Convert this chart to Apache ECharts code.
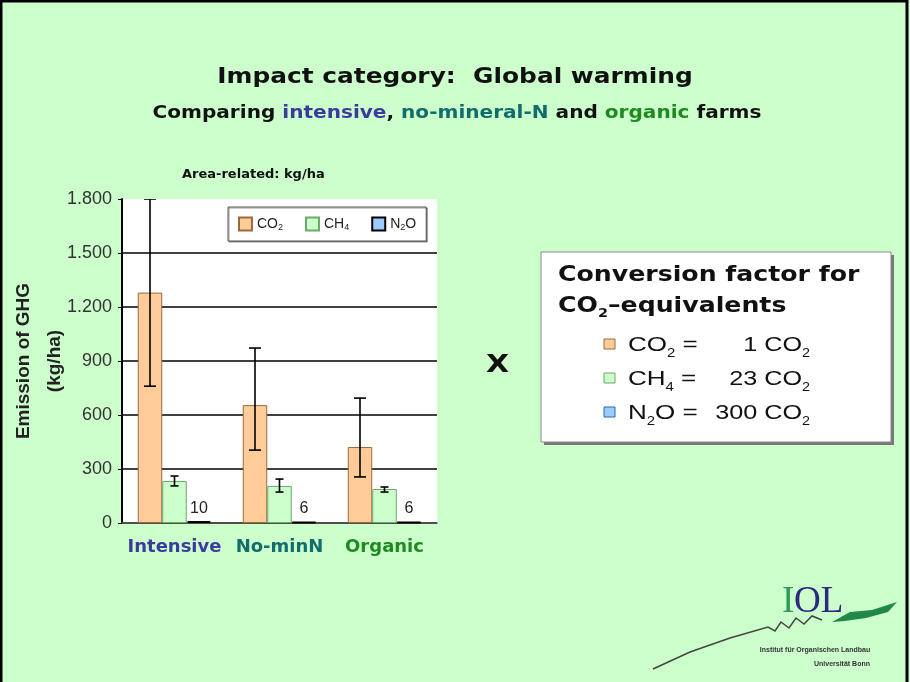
<!DOCTYPE html>
<html>
<head>
<meta charset="utf-8">
<script src="https://cdn.jsdelivr.net/npm/echarts@6/dist/echarts.min.js"></script>
<style>
  html, body { margin: 0; padding: 0; background: #ccffcc; }
  #chart { width: 910px; height: 682px; }
</style>
</head>
<body>
<div id="chart"></div>
<script>
// farm types
const categories = ['Intensive', 'No-minN', 'Organic']
const catColors = ['#3b3b9e', '#116d6d', '#1f8a1f']
// emissions kg/ha
const co2 = [1280, 655, 422]
const ch4 = [233, 206, 189]
const n2o = [10, 6, 6]
// error bar ends
const co2Low = [760, 405, 256]
const co2High = [1800, 972, 694]
const ch4Low = [206, 172, 172]
const ch4High = [261, 244, 200]
// conversion factors box
const factorGas = ['CO{s|2} =', 'CH{s|4} =', 'N{s|2}O =']
const factorValue = ['1 CO{s|2}', '23 CO{s|2}', '300 CO{s|2}']
const factorColor = ['#ffcc99', '#ccffcc', '#99ccff']
const factorBorder = ['#9a6b3c', '#6aaa6a', '#3366aa']

const chart = echarts.init(document.getElementById('chart'))

// error bars drawn next to the bar of series number idx (0..2)
function errorRenderer (idx, cap) {
  return function (params, api) {
    const x = api.value(0)
    const lo = api.coord([x, api.value(1)])
    const hi = api.coord([x, api.value(2)])
    const catW = api.size([1, 0])[0]
    const barW = catW * 0.7 / 3
    const cx = lo[0] + (idx - 1) * barW
    const style = { stroke: '#000', lineWidth: 1.6 }
    return {
      type: 'group',
      children: [
        { type: 'line', shape: { x1: cx, y1: lo[1], x2: cx, y2: hi[1] }, style },
        { type: 'line', shape: { x1: cx - cap, y1: lo[1], x2: cx + cap, y2: lo[1] }, style },
        { type: 'line', shape: { x1: cx - cap, y1: hi[1], x2: cx + cap, y2: hi[1] }, style }
      ]
    }
  }
}

function txt (x, y, text, font, opts) {
  opts = opts || {}
  return {
    type: 'text', x: x, y: y, silent: true,
    scaleX: opts.scaleX || 1,
    style: {
      text: text, font: font, fill: opts.fill || '#111',
      align: opts.align || 'left', textAlign: opts.align || 'left',
      verticalAlign: 'middle', textVerticalAlign: 'middle',
      lineHeight: opts.lineHeight, rich: opts.rich
    }
  }
}

const boxRich = { s: { font: '12px "Liberation Sans"', verticalAlign: 'bottom' } }
const factorEls = []
factorGas.forEach((g, i) => {
  const cy = 345 + i * 34
  factorEls.push({
    type: 'rect', silent: true,
    shape: { x: 604, y: cy - 6, width: 11, height: 10 },
    style: { fill: factorColor[i], stroke: factorBorder[i], lineWidth: 1 }
  })
  factorEls.push(txt(628, cy, g, '21px "Liberation Sans"', { lineHeight: 30, rich: boxRich, scaleX: 1.24 }))
  factorEls.push(txt(810, cy, factorValue[i], '21px "Liberation Sans"', { lineHeight: 30, rich: boxRich, scaleX: 1.2, align: 'right' }))
})

const option = {
  backgroundColor: '#ccffcc',
  animation: false,
  grid: {
    left: 122, top: 199, right: 473, bottom: 159,
    show: true, backgroundColor: '#ffffff', borderWidth: 0
  },
  legend: {
    left: 228, top: 207,
    data: ['CO2', 'CH4', 'N2O'],
    backgroundColor: '#ffffff',
    borderColor: '#555',
    borderWidth: 1,
    padding: [9, 10],
    itemGap: 22,
    itemWidth: 13,
    itemHeight: 13,
    icon: 'rect',
    shadowColor: 'rgba(0,0,0,0.4)',
    shadowOffsetX: 1,
    shadowOffsetY: 1,
    formatter: function (name) {
      return { CO2: 'CO{s|2}', CH4: 'CH{s|4}', N2O: 'N{s|2}O' }[name]
    },
    textStyle: {
      fontSize: 14, lineHeight: 16, color: '#222', fontFamily: 'Liberation Sans',
      rich: { s: { fontSize: 9, lineHeight: 9, verticalAlign: 'bottom', fontFamily: 'Liberation Sans', color: '#222' } }
    }
  },
  xAxis: {
    type: 'category',
    data: categories,
    axisLine: { lineStyle: { color: '#555', width: 1.5 } },
    axisTick: { show: false },
    axisLabel: {
      interval: 0,
      hideOverlap: false,
      margin: 15,
      fontSize: 18,
      fontWeight: 'bold',
      fontFamily: 'DejaVu Sans',
      color: function (v, i) { return catColors[categories.indexOf(v)] }
    }
  },
  yAxis: {
    type: 'value',
    min: 0,
    max: 1800,
    interval: 300,
    name: 'Emission of GHG\n(kg/ha)',
    nameLocation: 'middle',
    nameRotate: 90,
    nameGap: 52,
    nameMoveOverlap: false,
    nameTextStyle: { fontSize: 19, fontWeight: 'bold', color: '#222', fontFamily: 'Liberation Sans', lineHeight: 31 },
    axisLine: { show: true, lineStyle: { color: '#000', width: 2 } },
    axisTick: { show: true, length: 4, lineStyle: { color: '#000' } },
    axisLabel: {
      fontSize: 18, color: '#333', fontFamily: 'Liberation Sans', margin: 10,
      formatter: function (v) { return String(v).replace(/\B(?=(\d{3})+(?!\d))/g, '.') }
    },
    splitLine: { show: true, showMaxLine: false, lineStyle: { color: '#000', width: 1.5 } }
  },
  series: [
    {
      name: 'CO2', type: 'bar', data: co2,
      barGap: '0%', barCategoryGap: '30%',
      itemStyle: { color: '#ffcc99', borderColor: '#9a6b3c', borderWidth: 1 }
    },
    {
      name: 'CH4', type: 'bar', data: ch4,
      itemStyle: { color: '#ccffcc', borderColor: '#6aaa6a', borderWidth: 1 }
    },
    {
      name: 'N2O', type: 'bar', data: n2o,
      itemStyle: { color: '#99ccff', borderColor: '#000', borderWidth: 2 },
      label: { show: true, position: 'top', distance: 5, fontSize: 16, color: '#222', fontFamily: 'Liberation Sans' }
    },
    {
      type: 'custom', name: 'co2err', silent: true, clip: true, z: 5,
      renderItem: errorRenderer(0, 6),
      data: categories.map((c, i) => [i, co2Low[i], co2High[i]])
    },
    {
      type: 'custom', name: 'ch4err', silent: true, clip: true, z: 5,
      renderItem: errorRenderer(1, 4),
      data: categories.map((c, i) => [i, ch4Low[i], ch4High[i]])
    }
  ],
  graphic: [
    // page frame
    { type: 'rect', shape: { x: 1, y: 1, width: 906, height: 700 }, style: { fill: 'none', stroke: '#000', lineWidth: 3 }, silent: true },
    txt(455, 77, 'Impact category:  Global warming', 'bold 22px "DejaVu Sans"', { align: 'center', scaleX: 1.13 }),
    txt(457, 113, 'Comparing {b|intensive}, {t|no-mineral-N} and {g|organic} farms', 'bold 18px "DejaVu Sans"', {
      align: 'center', scaleX: 1.115,
      rich: {
        b: { fill: '#3b3b9e', font: 'bold 18px "DejaVu Sans"' },
        t: { fill: '#116d6d', font: 'bold 18px "DejaVu Sans"' },
        g: { fill: '#1f8a1f', font: 'bold 18px "DejaVu Sans"' }
      }
    }),
    txt(182, 175, 'Area-related: kg/ha', 'bold 13px "DejaVu Sans"'),
    txt(486, 366, 'X', 'bold 24px "DejaVu Sans"', { scaleX: 1.25 }),
    // conversion factor box
    { type: 'rect', silent: true, shape: { x: 544, y: 255, width: 350, height: 190 }, style: { fill: '#777' } },
    { type: 'rect', silent: true, shape: { x: 541, y: 252, width: 350, height: 190 }, style: { fill: '#fff', stroke: '#888', lineWidth: 1 } },
    txt(558, 276, 'Conversion factor for', 'bold 21px "DejaVu Sans"', { scaleX: 1.2 }),
    txt(558, 307, 'CO{s|2}\u2013equivalents', 'bold 21px "DejaVu Sans"', {
      scaleX: 1.2, lineHeight: 26,
      rich: { s: { font: 'bold 12px "DejaVu Sans"', verticalAlign: 'bottom' } }
    })
  ].concat(factorEls).concat([
    // IOL logo
    {
      type: 'polyline', silent: true,
      shape: { points: [[653, 669], [690, 652], [730, 638], [768, 627], [775, 631], [781, 622], [789, 628], [796, 618], [804, 624], [812, 616], [822, 620]] },
      style: { stroke: '#444', lineWidth: 1.5, fill: 'none' }
    },
    {
      type: 'polygon', silent: true,
      shape: { points: [[832, 622], [850, 612], [872, 610], [897, 602], [888, 612], [866, 618], [845, 621]] },
      style: { fill: '#22884a' }
    },
    txt(782, 602, 'I', '37px "Liberation Serif"', { fill: '#2e9a5a' }),
    txt(794, 602, 'OL', '37px "Liberation Serif"', { fill: '#2a2a80' }),
    txt(815, 650, 'Institut für Organischen Landbau', 'bold 7px "Liberation Sans"', { align: 'center', fill: '#333' }),
    txt(842, 664, 'Universität Bonn', 'bold 7px "Liberation Sans"', { align: 'center', fill: '#333' })
  ])
}

chart.setOption(option)
</script>
</body>
</html>
